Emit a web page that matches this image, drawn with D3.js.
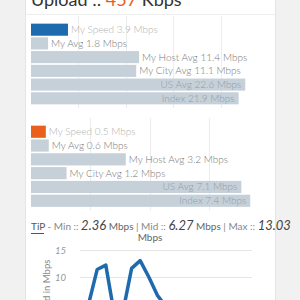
<!DOCTYPE html>
<html>
<head>
<meta charset="utf-8">
<script src="https://cdn.jsdelivr.net/npm/d3@7"></script>
<style>
  body { margin: 0; background: #f1f1f1; overflow: hidden; }
  svg { display: block; font-family: "Lato", sans-serif; }
</style>
</head>
<body>
<div id="chart"></div>
<script>
// data
const barLabels = ["My Speed", "My Avg", "My Host Avg", "My City Avg", "US Avg", "Index"]
const downloadValues = [3.9, 1.8, 11.4, 11.1, 22.6, 21.9]
const uploadValues = [0.5, 0.6, 3.2, 1.2, 7.1, 7.4]
const uploadKbps = 457
const tipNames = ["Min", "Mid", "Max"]
const tipStats = [2.36, 6.27, 13.03]
const tipValues = [2.4, 5.0, 11.4, 12.2, 3.0, 3.6, 11.6, 13.03, 10.0, 6.6, 4.5, 3.8, 5.0, 4.2, 3.6, 4.8, 5.1, 4.0, 2.8, 4.4, 3.9]
const yTicks = [0, 5, 10, 15]

const width = 300, height = 300
const blue = "#1d6aae", orange = "#e8601c", barGrey = "#c6d0d9"

const svg = d3.select("div#chart").append("svg").attr("width", width).attr("height", height)

// card
svg.append("rect").attr("x", 25.5).attr("y", -10).attr("width", 250).attr("height", 330)
    .attr("fill", "#fff").attr("stroke", "#e4e4e4")

// heading (cut by the top edge, as in the screenshot)
const title = svg.append("text").attr("x", 31).attr("y", 6).attr("font-size", 18).attr("fill", "#333")
title.append("tspan").text("Upload :: ")
title.append("tspan").attr("fill", orange).text(uploadKbps)
title.append("tspan").text(" Kbps")
svg.append("line").attr("x1", 26).attr("x2", 275).attr("y1", 14.5).attr("y2", 14.5).attr("stroke", "#eeeeee")

// horizontal bar block
function barBlock(values, maxVal, gridStep, top, bottom, mainColor) {
    const x = d3.scaleLinear().domain([0, maxVal]).range([31, 268])
    const y = d3.scaleBand().domain(barLabels).range([top, bottom]).padding(0.12)
    const g = svg.append("g")

    g.selectAll("line.grid").data(d3.range(gridStep, maxVal, gridStep)).join("line")
        .attr("class", "grid")
        .attr("x1", d => Math.round(x(d)) + 0.5).attr("x2", d => Math.round(x(d)) + 0.5)
        .attr("y1", top - 6).attr("y2", bottom + 2)
        .attr("stroke", "#ececec")

    const rows = barLabels.map((l, i) => ({ label: l, value: values[i], i: i }))

    g.selectAll("rect.bar").data(rows).join("rect")
        .attr("class", "bar")
        .attr("x", x(0))
        .attr("y", d => y(d.label))
        .attr("width", d => x(d.value) - x(0))
        .attr("height", y.bandwidth())
        .attr("fill", d => d.i == 0 ? mainColor : barGrey)

    g.selectAll("text.lbl").data(rows).join("text")
        .attr("class", "lbl")
        .attr("font-size", 10)
        .attr("font-weight", 300)
        .attr("dy", "0.35em")
        .attr("y", d => y(d.label) + y.bandwidth() / 2)
        .each(function(d) {
            const inside = d.value / maxVal > 0.75
            d3.select(this)
                .attr("x", inside ? x(d.value) - 4 : x(d.value) + 3)
                .attr("text-anchor", inside ? "end" : "start")
                .attr("fill", inside ? "#8e9ba7" : (d.i == 0 ? "#b0b0b0" : "#777777"))
        })
        .text(d => `${d.label} ${d.value} Mbps`)
}

barBlock(downloadValues, 25, 5, 22, 106, blue)
barBlock(uploadValues, 8, 2, 124, 208.5, orange)

// TiP summary line
const tip = svg.append("text").attr("x", 31).attr("y", 230).attr("font-size", 10).attr("fill", "#888")
tip.append("tspan").attr("fill", "#555").text("TiP")
tip.append("tspan").text(" - ")
tipNames.forEach((n, i) => {
    tip.append("tspan").text((i > 0 ? " | " : "") + n + " :: ")
    tip.append("tspan").attr("font-size", 13).attr("font-style", "italic").attr("fill", "#444").text(tipStats[i].toFixed(2))
    if (i < tipNames.length - 1) tip.append("tspan").attr("fill", "#666").text(" Mbps")
})
svg.append("line").attr("x1", 31).attr("x2", 44).attr("y1", 233.5).attr("y2", 233.5).attr("stroke", "#555")
svg.append("text").attr("x", 150).attr("y", 241).attr("text-anchor", "middle")
    .attr("font-size", 10).attr("fill", "#666").text("Mbps")

// line chart
const lx = d3.scaleLinear().domain([0, tipValues.length - 1]).range([80, 252])
const ly = d3.scaleLinear().domain([0, 15]).range([331, 250])

const yAxis = d3.axisLeft(ly).tickValues(yTicks).tickSize(-(252 - 80)).tickPadding(14)
const yAxisGroup = svg.append("g").attr("transform", "translate(80, 0)").call(yAxis)
yAxisGroup.select(".domain").remove()
yAxisGroup.selectAll(".tick line").attr("stroke", "#e6e6e6")
yAxisGroup.selectAll(".tick text").attr("fill", "#999").attr("font-style", "italic")
    .attr("font-size", 9.5).attr("font-family", "Lato, sans-serif")

svg.append("text")
    .attr("transform", `translate(50, ${(ly(0) + ly(15)) / 2}) rotate(-90)`)
    .attr("text-anchor", "middle").attr("font-size", 9.5).attr("fill", "#888")
    .text("Speed in Mbps")

const line = d3.line().x((d, i) => lx(i)).y(d => ly(d))
svg.append("path").datum(tipValues)
    .attr("d", line)
    .attr("fill", "none")
    .attr("stroke", blue)
    .attr("stroke-width", 3.5)
    .attr("stroke-linejoin", "round")
</script>
</body>
</html>
